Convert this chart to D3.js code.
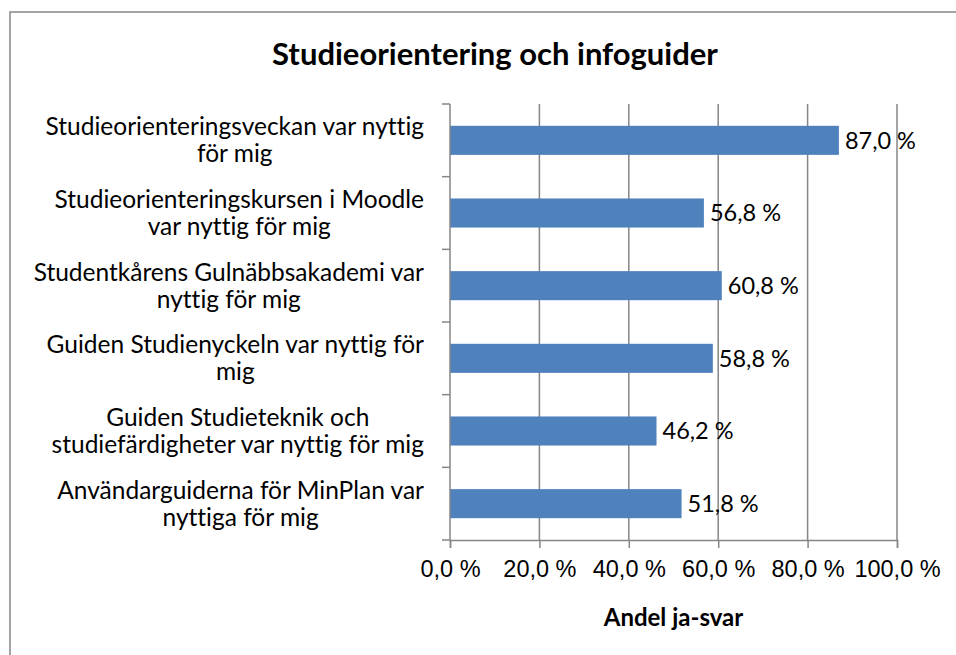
<!DOCTYPE html>
<html>
<head>
<meta charset="utf-8">
<script src="https://cdn.jsdelivr.net/npm/d3@7"></script>
<style>
  body { margin: 0; background: #fff; }
  svg { display: block; font-family: Lato, "Open Sans", sans-serif; font-variant-ligatures: none; }
</style>
</head>
<body>
<svg id="chart" width="956" height="655"></svg>
<script>
// chart data, top to bottom
const categories = [
  ["Studieorienteringsveckan var nyttig", "för mig"],
  ["Studieorienteringskursen i Moodle", "var nyttig för mig"],
  ["Studentkårens Gulnäbbsakademi var", "nyttig för mig"],
  ["Guiden Studienyckeln var nyttig för", "mig"],
  ["Guiden Studieteknik och", "studiefärdigheter var nyttig för mig"],
  ["Användarguiderna för MinPlan var", "nyttiga för mig"]
];
const values = [87.0, 56.8, 60.8, 58.8, 46.2, 51.8];
const xTicks = [0, 20, 40, 60, 80, 100];
const title = "Studieorientering och infoguider";
const xTitle = "Andel ja-svar";

const svg = d3.select("#chart");
const plot = { left: 450, right: 897, top: 104, bottom: 540 };
const gridColor = "#868686",
  barColor = "#4f81bd",
  fontSize = 23.5;

const fmt = (v) => d3.format(".1f")(v).replace(".", ",") + " %";

// outer frame (only top and left edges fall inside the picture)
svg.append("rect")
  .attr("x", 10).attr("y", 12)
  .attr("width", 1000).attr("height", 700)
  .attr("fill", "none")
  .attr("stroke", gridColor)
  .attr("stroke-width", 1.5);

svg.append("text")
  .attr("x", 495).attr("y", 65)
  .attr("text-anchor", "middle")
  .attr("font-size", 31).attr("font-weight", "bold")
  .text(title);

const x = d3.scaleLinear().domain([0, 100]).range([plot.left, plot.right]);
const y = d3.scaleBand()
  .domain(d3.range(categories.length))
  .range([plot.top, plot.bottom])
  .paddingInner(0.6).paddingOuter(0.3);

// vertical gridlines
svg.append("g")
  .selectAll("line")
  .data(xTicks.slice(1))
  .join("line")
  .attr("x1", (d) => x(d)).attr("x2", (d) => x(d))
  .attr("y1", plot.top).attr("y2", plot.bottom)
  .attr("stroke", gridColor).attr("stroke-width", 1.5);

// bars
svg.append("g")
  .selectAll("rect")
  .data(values)
  .join("rect")
  .attr("x", x(0))
  .attr("y", (d, i) => y(i))
  .attr("width", (d) => x(d) - x(0))
  .attr("height", y.bandwidth())
  .attr("fill", barColor);

// bottom axis
const xAxis = d3.axisBottom(x).tickValues(xTicks).tickSize(8).tickFormat(fmt).tickPadding(12);
const gx = svg.append("g")
  .attr("transform", `translate(0,${plot.bottom})`)
  .call(xAxis);
gx.select(".domain").attr("stroke", gridColor).attr("stroke-width", 1.5);
gx.selectAll(".tick line").attr("stroke", gridColor).attr("stroke-width", 1.5);
gx.selectAll(".tick text").attr("font-size", fontSize).attr("fill", "#000").attr("font-family", null);

// left axis: category boundaries
const step = (plot.bottom - plot.top) / categories.length;
svg.append("line")
  .attr("x1", plot.left).attr("x2", plot.left)
  .attr("y1", plot.top).attr("y2", plot.bottom)
  .attr("stroke", gridColor).attr("stroke-width", 1.5);
svg.append("g")
  .selectAll("line")
  .data(d3.range(categories.length + 1))
  .join("line")
  .attr("x1", plot.left - 8).attr("x2", plot.left)
  .attr("y1", (d) => plot.top + d * step).attr("y2", (d) => plot.top + d * step)
  .attr("stroke", gridColor).attr("stroke-width", 1.5);

// category labels: block right aligned, lines centered
const lineH = 27;
categories.forEach((lines, i) => {
  const cy = y(i) + y.bandwidth() / 2;
  const t = svg.append("text")
    .attr("font-size", 24.5)
    .attr("text-anchor", "middle");
  const spans = lines.map((s, k) =>
    t.append("tspan")
      .attr("y", cy + (k - (lines.length - 1) / 2) * lineH)
      .attr("dy", "0.35em")
      .text(s)
  );
  const w = d3.max(spans, (s) => s.node().getComputedTextLength());
  spans.forEach((s) => s.attr("x", 424 - w / 2));
});

// value labels
svg.append("g")
  .selectAll("text")
  .data(values)
  .join("text")
  .attr("x", (d) => x(d) + 6)
  .attr("y", (d, i) => y(i) + y.bandwidth() / 2)
  .attr("dy", "0.35em")
  .attr("font-size", fontSize)
  .text(fmt);

svg.append("text")
  .attr("x", (plot.left + plot.right) / 2).attr("y", 626)
  .attr("text-anchor", "middle")
  .attr("font-size", 24).attr("font-weight", "bold")
  .text(xTitle);
</script>
</body>
</html>
